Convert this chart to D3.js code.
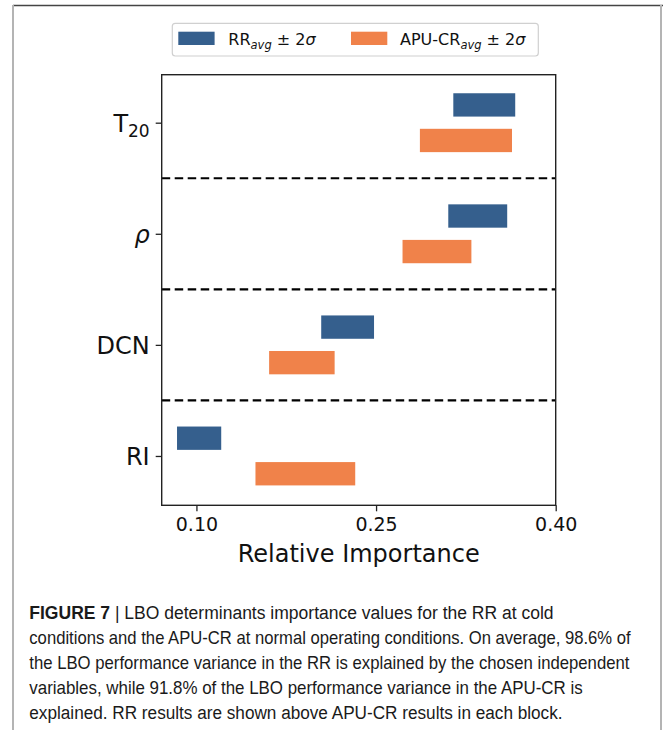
<!DOCTYPE html>
<html>
<head>
<meta charset="utf-8">
<script src="https://cdn.jsdelivr.net/npm/d3@7"></script>
<style>
  html, body { margin: 0; padding: 0; background: #fff; }
  svg { display: block; }
</style>
</head>
<body>
<svg id="chart" width="663" height="730"></svg>
<script>
// data (relative importance, avg ± 2 sigma)
const categories = ['T20', 'rho', 'DCN', 'RI'];
const rrLow   = [0.3145, 0.3103, 0.2042, 0.0838];
const rrHigh  = [0.3662, 0.3595, 0.2483, 0.1207];
const apuLow  = [0.2866, 0.2721, 0.1607, 0.1493];
const apuHigh = [0.3635, 0.3296, 0.2154, 0.2326];
const xTicks = [0.10, 0.25, 0.40];
const captionLines = [
  'LBO determinants importance values for the RR at cold',
  'conditions and the APU-CR at normal operating conditions. On average, 98.6% of',
  'the LBO performance variance in the RR is explained by the chosen independent',
  'variables, while 91.8% of the LBO performance variance in the APU-CR is',
  'explained. RR results are shown above APU-CR results in each block.'
];

const blue = '#355f8d';
const orange = '#f0824a';
const chartFont = '"DejaVu Sans", sans-serif';

const svg = d3.select('#chart');

// page frame
svg.append('line').attr('x1', 13).attr('x2', 663).attr('y1', 5.5).attr('y2', 5.5)
  .attr('stroke', '#444').attr('stroke-width', 1.5);
svg.append('line').attr('x1', 13).attr('x2', 13).attr('y1', 5).attr('y2', 730)
  .attr('stroke', '#b4b4b4').attr('stroke-width', 2);
svg.append('line').attr('x1', 661).attr('x2', 661).attr('y1', 5).attr('y2', 730)
  .attr('stroke', '#b4b4b4').attr('stroke-width', 2);

// plot area
const pLeft = 161.7, pRight = 555.7, pTop = 74.7, pBottom = 505.3;
const x = d3.scaleLinear().domain([0.071, 0.40]).range([pLeft, pRight]);
// category index 0 = top (T20), position value = 3 - i
const y = d3.scaleLinear().domain([-0.444, 3.432]).range([pBottom, pTop]);
const pos = (i) => categories.length - 1 - i;
const barH = 0.21, off = 0.16;

const g = svg.append('g');

// dashed separators
g.selectAll('line.sep')
  .data(d3.range(categories.length - 1))
  .join('line')
  .attr('class', 'sep')
  .attr('x1', pLeft).attr('x2', pRight)
  .attr('y1', (d) => y(d + 0.5)).attr('y2', (d) => y(d + 0.5))
  .attr('stroke', '#000').attr('stroke-width', 2.2)
  .attr('stroke-dasharray', '8.5,4.5');

// RR bars (above)
g.selectAll('rect.rr')
  .data(categories)
  .join('rect')
  .attr('class', 'rr')
  .attr('x', (d, i) => x(rrLow[i]))
  .attr('width', (d, i) => x(rrHigh[i]) - x(rrLow[i]))
  .attr('y', (d, i) => y(pos(i) + off + barH / 2))
  .attr('height', (d, i) => y(pos(i) + off - barH / 2) - y(pos(i) + off + barH / 2))
  .attr('fill', blue);

// APU-CR bars (below)
g.selectAll('rect.apu')
  .data(categories)
  .join('rect')
  .attr('class', 'apu')
  .attr('x', (d, i) => x(apuLow[i]))
  .attr('width', (d, i) => x(apuHigh[i]) - x(apuLow[i]))
  .attr('y', (d, i) => y(pos(i) - off + barH / 2))
  .attr('height', (d, i) => y(pos(i) - off - barH / 2) - y(pos(i) - off + barH / 2))
  .attr('fill', orange);

// frame
g.append('rect')
  .attr('x', pLeft).attr('y', pTop)
  .attr('width', pRight - pLeft).attr('height', pBottom - pTop)
  .attr('fill', 'none').attr('stroke', '#222').attr('stroke-width', 1.4);

// x axis
const xAxis = g.append('g')
  .attr('transform', `translate(0,${pBottom})`)
  .call(d3.axisBottom(x).tickValues(xTicks).tickFormat(d3.format('.2f')).tickSize(6).tickPadding(6));
xAxis.select('.domain').remove();
xAxis.selectAll('.tick line').attr('stroke', '#222').attr('stroke-width', 1.3);
xAxis.selectAll('.tick text')
  .attr('font-family', chartFont).attr('font-size', 19).attr('fill', '#111');

g.append('text')
  .attr('x', x(0.2355)).attr('y', 561.5)
  .attr('text-anchor', 'middle')
  .attr('font-family', chartFont).attr('font-size', 24).attr('fill', '#111')
  .text('Relative Importance');

// y axis
const yAxis = g.append('g')
  .attr('transform', `translate(${pLeft},0)`)
  .call(d3.axisLeft(y).tickValues(categories.map((d, i) => pos(i))).tickSize(6).tickPadding(7).tickFormat(''));
yAxis.select('.domain').remove();
yAxis.selectAll('.tick line').attr('stroke', '#222').attr('stroke-width', 1.3);

const yLab = g.selectAll('text.ylab')
  .data(categories)
  .join('text')
  .attr('class', 'ylab')
  .attr('x', pLeft - 12)
  .attr('y', (d, i) => y(pos(i)) + 9)
  .attr('text-anchor', 'end')
  .attr('font-family', chartFont).attr('font-size', 24).attr('fill', '#111');

yLab.each(function (d) {
  const t = d3.select(this);
  if (d === 'T20') {
    t.append('tspan').text('T');
    t.append('tspan').attr('font-size', 17).attr('dy', 5).text('20');
  } else if (d === 'rho') {
    t.append('tspan').attr('font-style', 'italic').text('ρ');
  } else {
    t.text(d);
  }
});

// legend
const leg = svg.append('g');
leg.append('rect')
  .attr('x', 172.3).attr('y', 23.3).attr('width', 366).attr('height', 32.7)
  .attr('rx', 3).attr('fill', '#fff').attr('stroke', '#d0d0d0').attr('stroke-width', 1.2);

const legendItems = [
  { color: blue, sx: 178.3, tx: 228.3, name: 'RR' },
  { color: orange, sx: 351, tx: 400, name: 'APU-CR' }
];
legendItems.forEach((it) => {
  leg.append('rect')
    .attr('x', it.sx).attr('y', 31.7).attr('width', 36.3).attr('height', 13.3)
    .attr('fill', it.color);
  const t = leg.append('text')
    .attr('x', it.tx).attr('y', 45)
    .attr('font-family', chartFont).attr('font-size', 16).attr('fill', '#111');
  t.append('tspan').text(it.name);
  t.append('tspan').attr('font-size', 11.5).attr('font-style', 'italic').attr('dy', 3.5).text('avg');
  t.append('tspan').attr('dy', -3.5).text(' ± 2');
  t.append('tspan').attr('font-style', 'italic').text('σ');
});

// caption: natural width measured, then squeezed horizontally to the condensed look
const capWidths = [524.7, 601.7, 600.7, 553.7, 533.7];
const capFont = '"Liberation Sans Narrow", "Liberation Sans", Arial, sans-serif';
captionLines.forEach((line, i) => {
  const cy = 619 + i * 25;
  const t = svg.append('text')
    .attr('x', 0).attr('y', 0)
    .attr('font-family', capFont).attr('font-size', 18).attr('fill', '#1a1a1a');
  if (i === 0) {
    t.append('tspan').attr('font-weight', 'bold').text('FIGURE 7');
    t.append('tspan').text(' | ' + line);
  } else {
    t.text(line);
  }
  const w = t.node().getComputedTextLength();
  const sx = capWidths[i] / w;
  t.attr('transform', `translate(29.3,${cy}) scale(${sx},1)`);
});
</script>
</body>
</html>
